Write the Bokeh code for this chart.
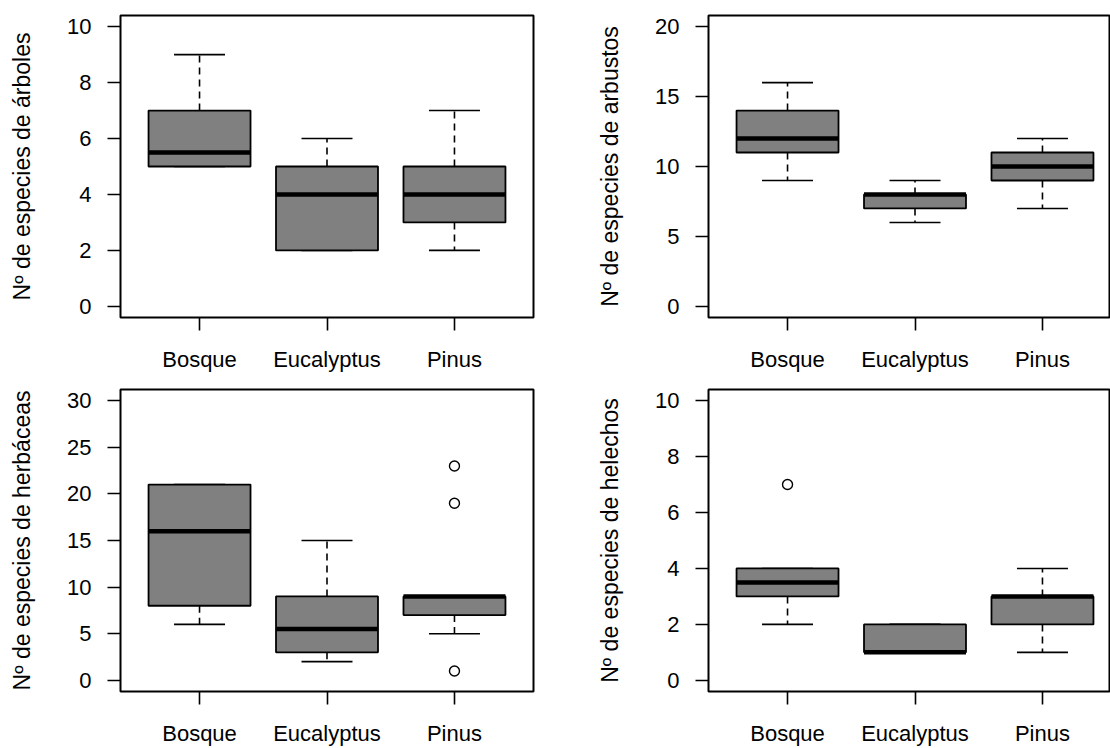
from bokeh.plotting import figure
from bokeh.layouts import gridplot
from bokeh.models import FixedTicker
from bokeh.embed import file_html
from bokeh.resources import INLINE

categories = ["Bosque", "Eucalyptus", "Pinus"]

# Nº de especies de árboles
arb_low = [5, 2, 2]
arb_q1 = [5, 2, 3]
arb_med = [5.5, 4, 4]
arb_q3 = [7, 5, 5]
arb_high = [9, 6, 7]
arb_out_cat = []
arb_out_val = []
arb_ticks = [0, 2, 4, 6, 8, 10]

# Nº de especies de arbustos
arbu_low = [9, 6, 7]
arbu_q1 = [11, 7, 9]
arbu_med = [12, 8, 10]
arbu_q3 = [14, 8, 11]
arbu_high = [16, 9, 12]
arbu_out_cat = []
arbu_out_val = []
arbu_ticks = [0, 5, 10, 15, 20]

# Nº de especies de herbáceas
her_low = [6, 2, 5]
her_q1 = [8, 3, 7]
her_med = [16, 5.5, 9]
her_q3 = [21, 9, 9]
her_high = [21, 15, 9]
her_out_cat = ["Pinus", "Pinus", "Pinus"]
her_out_val = [23, 19, 1]
her_ticks = [0, 5, 10, 15, 20, 25, 30]

# Nº de especies de helechos
hel_low = [2, 1, 1]
hel_q1 = [3, 1, 2]
hel_med = [3.5, 1, 3]
hel_q3 = [4, 2, 3]
hel_high = [4, 2, 4]
hel_out_cat = ["Bosque"]
hel_out_val = [7]
hel_ticks = [0, 2, 4, 6, 8, 10]

FONT = "Liberation Sans"
FS = "22px"
LFS = "23px"
LINE = "#000000"
FILL = "#808080"

PANEL_H = 374
FULL_W = 588
B_LEFT, B_RIGHT, B_TOP, B_BOTTOM = 120, 55, 15, 55
X0, X1 = 0.5 - 0.04 * 3, 3.5 + 0.04 * 3
PX_PER_UNIT = (FULL_W - B_LEFT - B_RIGHT) / (X1 - X0)


def panel(ylabel, low, q1, med, q3, high, out_cat, out_val, ticks, clipped=False):
    width = 1110 - FULL_W if clipped else FULL_W
    b_right = 0 if clipped else B_RIGHT
    frame_w = width - B_LEFT - b_right
    x_end = X0 + frame_w / PX_PER_UNIT
    ymax = ticks[-1]
    pad = 0.04 * (ymax - ticks[0])
    p = figure(width=width, height=PANEL_H, x_range=(X0, x_end),
               y_range=(ticks[0] - pad, ymax + pad),
               output_backend="svg", toolbar_location=None,
               min_border_left=B_LEFT, min_border_right=b_right,
               min_border_top=B_TOP, min_border_bottom=B_BOTTOM)
    p.background_fill_color = "white"
    p.border_fill_color = "white"
    p.xgrid.visible = False
    p.ygrid.visible = False
    p.outline_line_color = LINE
    p.outline_line_width = 2

    xs = [categories.index(c) + 1 for c in categories]

    # whiskers
    p.segment(x0=xs, y0=q3, x1=xs, y1=high, line_color=LINE, line_width=1.6, line_dash="7 5")
    p.segment(x0=xs, y0=q1, x1=xs, y1=low, line_color=LINE, line_width=1.6, line_dash="7 5")
    # staples
    p.segment(x0=[x - 0.2 for x in xs], y0=high, x1=[x + 0.2 for x in xs], y1=high,
              line_color=LINE, line_width=1.6)
    p.segment(x0=[x - 0.2 for x in xs], y0=low, x1=[x + 0.2 for x in xs], y1=low,
              line_color=LINE, line_width=1.6)
    # boxes
    p.vbar(x=xs, width=0.8, top=q3, bottom=q1, fill_color=FILL, line_color=LINE, line_width=1.8)
    # medians
    p.segment(x0=[x - 0.4 for x in xs], y0=med, x1=[x + 0.4 for x in xs], y1=med,
              line_color=LINE, line_width=4.5, line_cap="butt")
    # outliers
    if out_val:
        ox = [categories.index(c) + 1 for c in out_cat]
        p.scatter(x=ox, y=out_val, marker="circle", size=10, fill_color=None,
                  line_color=LINE, line_width=1.4)

    # axes
    xa = p.xaxis[0]
    xa.ticker = FixedTicker(ticks=xs)
    xa.major_label_overrides = {x: c for x, c in zip(xs, categories)}
    ya = p.yaxis[0]
    ya.ticker = FixedTicker(ticks=ticks)
    ya.axis_label = ylabel
    for ax in (xa, ya):
        ax.axis_line_color = None
        ax.major_tick_in = 0
        ax.major_tick_out = 13
        ax.major_tick_line_color = LINE
        ax.major_tick_line_width = 1.6
        ax.minor_tick_line_color = None
        ax.major_label_text_font = FONT
        ax.major_label_text_font_size = FS
        ax.major_label_text_color = "#000000"
        ax.major_label_standoff = 16
    ya.axis_label_text_font = FONT
    ya.axis_label_text_font_size = LFS
    ya.axis_label_text_font_style = "normal"
    ya.axis_label_text_color = "#000000"
    ya.axis_label_standoff = 29
    return p


p1 = panel("Nº de especies de árboles", arb_low, arb_q1, arb_med, arb_q3, arb_high,
           arb_out_cat, arb_out_val, arb_ticks)
p2 = panel("Nº de especies de arbustos", arbu_low, arbu_q1, arbu_med, arbu_q3, arbu_high,
           arbu_out_cat, arbu_out_val, arbu_ticks, clipped=True)
p3 = panel("Nº de especies de herbáceas", her_low, her_q1, her_med, her_q3, her_high,
           her_out_cat, her_out_val, her_ticks)
p4 = panel("Nº de especies de helechos", hel_low, hel_q1, hel_med, hel_q3, hel_high,
           hel_out_cat, hel_out_val, hel_ticks, clipped=True)

grid = gridplot([[p1, p2], [p3, p4]], toolbar_location=None)

open("out.html", "w").write(file_html(grid, INLINE))
